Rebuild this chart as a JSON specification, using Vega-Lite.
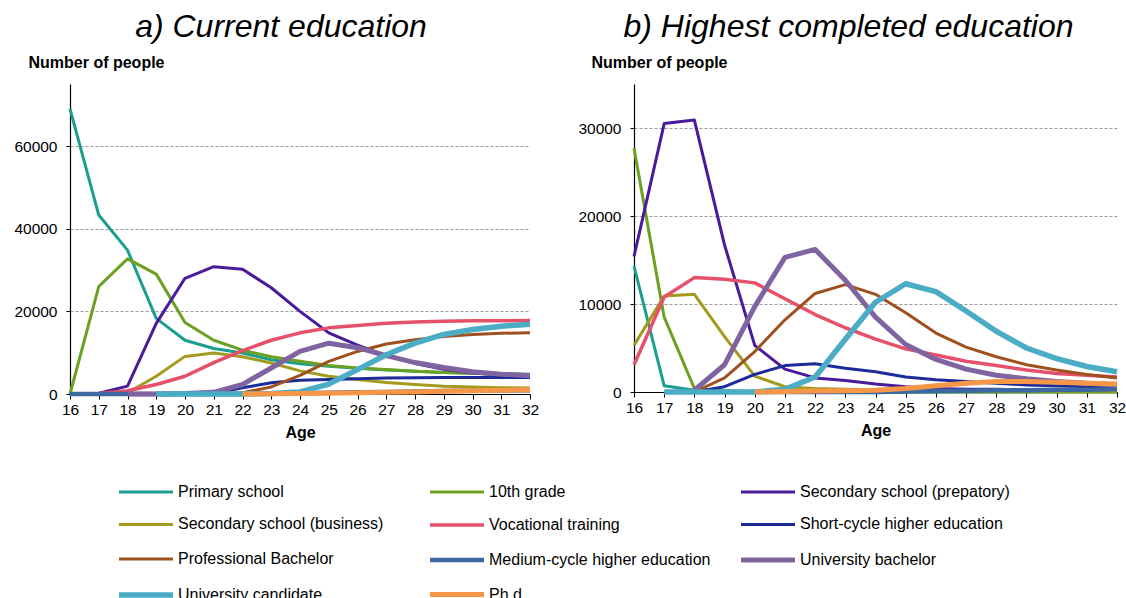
{
  "$schema": "https://vega.github.io/schema/vega-lite/v6.json",
  "background": "white",
  "padding": {"left": 13, "top": 11, "right": 0, "bottom": 0},
  "spacing": 38,
  "datasets": {
    "current": [
      {"age":16,"series":"Primary school","value":69000},{"age":17,"series":"Primary school","value":43300},{"age":18,"series":"Primary school","value":34800},{"age":19,"series":"Primary school","value":18300},{"age":20,"series":"Primary school","value":13000},{"age":21,"series":"Primary school","value":11000},{"age":22,"series":"Primary school","value":9900},{"age":23,"series":"Primary school","value":8300},{"age":24,"series":"Primary school","value":7300},{"age":25,"series":"Primary school","value":6700},{"age":26,"series":"Primary school","value":6200},{"age":27,"series":"Primary school","value":5800},{"age":28,"series":"Primary school","value":5500},{"age":29,"series":"Primary school","value":5200},{"age":30,"series":"Primary school","value":5000},{"age":31,"series":"Primary school","value":4900},{"age":32,"series":"Primary school","value":4800},
      {"age":16,"series":"10th grade","value":0},{"age":17,"series":"10th grade","value":26000},{"age":18,"series":"10th grade","value":32700},{"age":19,"series":"10th grade","value":29000},{"age":20,"series":"10th grade","value":17300},{"age":21,"series":"10th grade","value":13000},{"age":22,"series":"10th grade","value":10600},{"age":23,"series":"10th grade","value":9000},{"age":24,"series":"10th grade","value":7900},{"age":25,"series":"10th grade","value":6900},{"age":26,"series":"10th grade","value":6300},{"age":27,"series":"10th grade","value":5900},{"age":28,"series":"10th grade","value":5500},{"age":29,"series":"10th grade","value":5200},{"age":30,"series":"10th grade","value":5000},{"age":31,"series":"10th grade","value":4800},{"age":32,"series":"10th grade","value":4700},
      {"age":16,"series":"Secondary school (prepatory)","value":0},{"age":17,"series":"Secondary school (prepatory)","value":200},{"age":18,"series":"Secondary school (prepatory)","value":1900},{"age":19,"series":"Secondary school (prepatory)","value":17100},{"age":20,"series":"Secondary school (prepatory)","value":28000},{"age":21,"series":"Secondary school (prepatory)","value":30800},{"age":22,"series":"Secondary school (prepatory)","value":30200},{"age":23,"series":"Secondary school (prepatory)","value":25700},{"age":24,"series":"Secondary school (prepatory)","value":20000},{"age":25,"series":"Secondary school (prepatory)","value":14800},{"age":26,"series":"Secondary school (prepatory)","value":11800},{"age":27,"series":"Secondary school (prepatory)","value":9300},{"age":28,"series":"Secondary school (prepatory)","value":7400},{"age":29,"series":"Secondary school (prepatory)","value":6000},{"age":30,"series":"Secondary school (prepatory)","value":5100},{"age":31,"series":"Secondary school (prepatory)","value":4600},{"age":32,"series":"Secondary school (prepatory)","value":4300},
      {"age":16,"series":"Secondary school (business)","value":0},{"age":17,"series":"Secondary school (business)","value":0},{"age":18,"series":"Secondary school (business)","value":300},{"age":19,"series":"Secondary school (business)","value":4300},{"age":20,"series":"Secondary school (business)","value":9100},{"age":21,"series":"Secondary school (business)","value":9900},{"age":22,"series":"Secondary school (business)","value":9000},{"age":23,"series":"Secondary school (business)","value":7500},{"age":24,"series":"Secondary school (business)","value":5600},{"age":25,"series":"Secondary school (business)","value":4300},{"age":26,"series":"Secondary school (business)","value":3500},{"age":27,"series":"Secondary school (business)","value":2800},{"age":28,"series":"Secondary school (business)","value":2300},{"age":29,"series":"Secondary school (business)","value":1900},{"age":30,"series":"Secondary school (business)","value":1700},{"age":31,"series":"Secondary school (business)","value":1500},{"age":32,"series":"Secondary school (business)","value":1450},
      {"age":16,"series":"Vocational training","value":0},{"age":17,"series":"Vocational training","value":100},{"age":18,"series":"Vocational training","value":800},{"age":19,"series":"Vocational training","value":2300},{"age":20,"series":"Vocational training","value":4300},{"age":21,"series":"Vocational training","value":7600},{"age":22,"series":"Vocational training","value":10500},{"age":23,"series":"Vocational training","value":13000},{"age":24,"series":"Vocational training","value":14800},{"age":25,"series":"Vocational training","value":16000},{"age":26,"series":"Vocational training","value":16600},{"age":27,"series":"Vocational training","value":17100},{"age":28,"series":"Vocational training","value":17400},{"age":29,"series":"Vocational training","value":17600},{"age":30,"series":"Vocational training","value":17700},{"age":31,"series":"Vocational training","value":17700},{"age":32,"series":"Vocational training","value":17800},
      {"age":16,"series":"Short-cycle higher education","value":0},{"age":17,"series":"Short-cycle higher education","value":0},{"age":18,"series":"Short-cycle higher education","value":0},{"age":19,"series":"Short-cycle higher education","value":0},{"age":20,"series":"Short-cycle higher education","value":0},{"age":21,"series":"Short-cycle higher education","value":100},{"age":22,"series":"Short-cycle higher education","value":1500},{"age":23,"series":"Short-cycle higher education","value":2700},{"age":24,"series":"Short-cycle higher education","value":3300},{"age":25,"series":"Short-cycle higher education","value":3500},{"age":26,"series":"Short-cycle higher education","value":3700},{"age":27,"series":"Short-cycle higher education","value":3900},{"age":28,"series":"Short-cycle higher education","value":3950},{"age":29,"series":"Short-cycle higher education","value":4000},{"age":30,"series":"Short-cycle higher education","value":4000},{"age":31,"series":"Short-cycle higher education","value":4000},{"age":32,"series":"Short-cycle higher education","value":4000},
      {"age":16,"series":"Professional Bachelor","value":0},{"age":17,"series":"Professional Bachelor","value":0},{"age":18,"series":"Professional Bachelor","value":0},{"age":19,"series":"Professional Bachelor","value":0},{"age":20,"series":"Professional Bachelor","value":0},{"age":21,"series":"Professional Bachelor","value":0},{"age":22,"series":"Professional Bachelor","value":300},{"age":23,"series":"Professional Bachelor","value":1700},{"age":24,"series":"Professional Bachelor","value":4500},{"age":25,"series":"Professional Bachelor","value":7900},{"age":26,"series":"Professional Bachelor","value":10300},{"age":27,"series":"Professional Bachelor","value":12100},{"age":28,"series":"Professional Bachelor","value":13100},{"age":29,"series":"Professional Bachelor","value":13900},{"age":30,"series":"Professional Bachelor","value":14400},{"age":31,"series":"Professional Bachelor","value":14700},{"age":32,"series":"Professional Bachelor","value":14800},
      {"age":16,"series":"Medium-cycle higher education","value":0},{"age":17,"series":"Medium-cycle higher education","value":0},{"age":18,"series":"Medium-cycle higher education","value":0},{"age":19,"series":"Medium-cycle higher education","value":0},{"age":20,"series":"Medium-cycle higher education","value":0},{"age":21,"series":"Medium-cycle higher education","value":0},{"age":22,"series":"Medium-cycle higher education","value":0},{"age":23,"series":"Medium-cycle higher education","value":100},{"age":24,"series":"Medium-cycle higher education","value":200},{"age":25,"series":"Medium-cycle higher education","value":300},{"age":26,"series":"Medium-cycle higher education","value":400},{"age":27,"series":"Medium-cycle higher education","value":500},{"age":28,"series":"Medium-cycle higher education","value":600},{"age":29,"series":"Medium-cycle higher education","value":700},{"age":30,"series":"Medium-cycle higher education","value":800},{"age":31,"series":"Medium-cycle higher education","value":850},{"age":32,"series":"Medium-cycle higher education","value":900},
      {"age":18,"series":"University bachelor","value":0},{"age":19,"series":"University bachelor","value":0},{"age":20,"series":"University bachelor","value":100},{"age":21,"series":"University bachelor","value":400},{"age":22,"series":"University bachelor","value":2300},{"age":23,"series":"University bachelor","value":6300},{"age":24,"series":"University bachelor","value":10300},{"age":25,"series":"University bachelor","value":12300},{"age":26,"series":"University bachelor","value":11200},{"age":27,"series":"University bachelor","value":9300},{"age":28,"series":"University bachelor","value":7600},{"age":29,"series":"University bachelor","value":6400},{"age":30,"series":"University bachelor","value":5400},{"age":31,"series":"University bachelor","value":4800},{"age":32,"series":"University bachelor","value":4400},
      {"age":19,"series":"University candidate","value":0},{"age":20,"series":"University candidate","value":0},{"age":21,"series":"University candidate","value":0},{"age":22,"series":"University candidate","value":0},{"age":23,"series":"University candidate","value":100},{"age":24,"series":"University candidate","value":500},{"age":25,"series":"University candidate","value":2400},{"age":26,"series":"University candidate","value":5900},{"age":27,"series":"University candidate","value":9500},{"age":28,"series":"University candidate","value":12300},{"age":29,"series":"University candidate","value":14400},{"age":30,"series":"University candidate","value":15600},{"age":31,"series":"University candidate","value":16400},{"age":32,"series":"University candidate","value":16900},
      {"age":22,"series":"Ph.d.","value":0},{"age":23,"series":"Ph.d.","value":50},{"age":24,"series":"Ph.d.","value":100},{"age":25,"series":"Ph.d.","value":200},{"age":26,"series":"Ph.d.","value":300},{"age":27,"series":"Ph.d.","value":400},{"age":28,"series":"Ph.d.","value":500},{"age":29,"series":"Ph.d.","value":650},{"age":30,"series":"Ph.d.","value":800},{"age":31,"series":"Ph.d.","value":900},{"age":32,"series":"Ph.d.","value":1000}
    ],
    "highest": [
      {"age":16,"series":"Primary school","value":14300},{"age":17,"series":"Primary school","value":700},{"age":18,"series":"Primary school","value":200},{"age":19,"series":"Primary school","value":100},{"age":20,"series":"Primary school","value":50},{"age":21,"series":"Primary school","value":0},{"age":22,"series":"Primary school","value":0},{"age":23,"series":"Primary school","value":0},{"age":24,"series":"Primary school","value":0},{"age":25,"series":"Primary school","value":0},{"age":26,"series":"Primary school","value":0},{"age":27,"series":"Primary school","value":0},{"age":28,"series":"Primary school","value":0},{"age":29,"series":"Primary school","value":0},{"age":30,"series":"Primary school","value":0},{"age":31,"series":"Primary school","value":0},{"age":32,"series":"Primary school","value":0},
      {"age":16,"series":"10th grade","value":27700},{"age":17,"series":"10th grade","value":8500},{"age":18,"series":"10th grade","value":400},{"age":19,"series":"10th grade","value":100},{"age":20,"series":"10th grade","value":0},{"age":21,"series":"10th grade","value":0},{"age":22,"series":"10th grade","value":0},{"age":23,"series":"10th grade","value":0},{"age":24,"series":"10th grade","value":0},{"age":25,"series":"10th grade","value":0},{"age":26,"series":"10th grade","value":0},{"age":27,"series":"10th grade","value":0},{"age":28,"series":"10th grade","value":0},{"age":29,"series":"10th grade","value":0},{"age":30,"series":"10th grade","value":0},{"age":31,"series":"10th grade","value":0},{"age":32,"series":"10th grade","value":0},
      {"age":16,"series":"Secondary school (prepatory)","value":15400},{"age":17,"series":"Secondary school (prepatory)","value":30500},{"age":18,"series":"Secondary school (prepatory)","value":30900},{"age":19,"series":"Secondary school (prepatory)","value":16700},{"age":20,"series":"Secondary school (prepatory)","value":5300},{"age":21,"series":"Secondary school (prepatory)","value":2600},{"age":22,"series":"Secondary school (prepatory)","value":1600},{"age":23,"series":"Secondary school (prepatory)","value":1300},{"age":24,"series":"Secondary school (prepatory)","value":900},{"age":25,"series":"Secondary school (prepatory)","value":600},{"age":26,"series":"Secondary school (prepatory)","value":400},{"age":27,"series":"Secondary school (prepatory)","value":300},{"age":28,"series":"Secondary school (prepatory)","value":300},{"age":29,"series":"Secondary school (prepatory)","value":250},{"age":30,"series":"Secondary school (prepatory)","value":200},{"age":31,"series":"Secondary school (prepatory)","value":200},{"age":32,"series":"Secondary school (prepatory)","value":200},
      {"age":16,"series":"Secondary school (business)","value":5300},{"age":17,"series":"Secondary school (business)","value":10900},{"age":18,"series":"Secondary school (business)","value":11100},{"age":19,"series":"Secondary school (business)","value":6300},{"age":20,"series":"Secondary school (business)","value":1800},{"age":21,"series":"Secondary school (business)","value":600},{"age":22,"series":"Secondary school (business)","value":400},{"age":23,"series":"Secondary school (business)","value":300},{"age":24,"series":"Secondary school (business)","value":250},{"age":25,"series":"Secondary school (business)","value":200},{"age":26,"series":"Secondary school (business)","value":200},{"age":27,"series":"Secondary school (business)","value":150},{"age":28,"series":"Secondary school (business)","value":150},{"age":29,"series":"Secondary school (business)","value":100},{"age":30,"series":"Secondary school (business)","value":100},{"age":31,"series":"Secondary school (business)","value":100},{"age":32,"series":"Secondary school (business)","value":100},
      {"age":16,"series":"Vocational training","value":3100},{"age":17,"series":"Vocational training","value":10800},{"age":18,"series":"Vocational training","value":13000},{"age":19,"series":"Vocational training","value":12800},{"age":20,"series":"Vocational training","value":12400},{"age":21,"series":"Vocational training","value":10600},{"age":22,"series":"Vocational training","value":8800},{"age":23,"series":"Vocational training","value":7300},{"age":24,"series":"Vocational training","value":6000},{"age":25,"series":"Vocational training","value":4900},{"age":26,"series":"Vocational training","value":4200},{"age":27,"series":"Vocational training","value":3500},{"age":28,"series":"Vocational training","value":3000},{"age":29,"series":"Vocational training","value":2500},{"age":30,"series":"Vocational training","value":2100},{"age":31,"series":"Vocational training","value":1900},{"age":32,"series":"Vocational training","value":1700},
      {"age":18,"series":"Short-cycle higher education","value":0},{"age":19,"series":"Short-cycle higher education","value":600},{"age":20,"series":"Short-cycle higher education","value":2000},{"age":21,"series":"Short-cycle higher education","value":3000},{"age":22,"series":"Short-cycle higher education","value":3200},{"age":23,"series":"Short-cycle higher education","value":2700},{"age":24,"series":"Short-cycle higher education","value":2300},{"age":25,"series":"Short-cycle higher education","value":1700},{"age":26,"series":"Short-cycle higher education","value":1400},{"age":27,"series":"Short-cycle higher education","value":1200},{"age":28,"series":"Short-cycle higher education","value":1000},{"age":29,"series":"Short-cycle higher education","value":800},{"age":30,"series":"Short-cycle higher education","value":700},{"age":31,"series":"Short-cycle higher education","value":600},{"age":32,"series":"Short-cycle higher education","value":500},
      {"age":18,"series":"Professional Bachelor","value":0},{"age":19,"series":"Professional Bachelor","value":1600},{"age":20,"series":"Professional Bachelor","value":4600},{"age":21,"series":"Professional Bachelor","value":8200},{"age":22,"series":"Professional Bachelor","value":11200},{"age":23,"series":"Professional Bachelor","value":12200},{"age":24,"series":"Professional Bachelor","value":11100},{"age":25,"series":"Professional Bachelor","value":9000},{"age":26,"series":"Professional Bachelor","value":6700},{"age":27,"series":"Professional Bachelor","value":5100},{"age":28,"series":"Professional Bachelor","value":4000},{"age":29,"series":"Professional Bachelor","value":3100},{"age":30,"series":"Professional Bachelor","value":2500},{"age":31,"series":"Professional Bachelor","value":2000},{"age":32,"series":"Professional Bachelor","value":1600},
      {"age":20,"series":"Medium-cycle higher education","value":0},{"age":21,"series":"Medium-cycle higher education","value":0},{"age":22,"series":"Medium-cycle higher education","value":0},{"age":23,"series":"Medium-cycle higher education","value":0},{"age":24,"series":"Medium-cycle higher education","value":0},{"age":25,"series":"Medium-cycle higher education","value":50},{"age":26,"series":"Medium-cycle higher education","value":100},{"age":27,"series":"Medium-cycle higher education","value":150},{"age":28,"series":"Medium-cycle higher education","value":200},{"age":29,"series":"Medium-cycle higher education","value":200},{"age":30,"series":"Medium-cycle higher education","value":250},{"age":31,"series":"Medium-cycle higher education","value":250},{"age":32,"series":"Medium-cycle higher education","value":300},
      {"age":18,"series":"University bachelor","value":200},{"age":19,"series":"University bachelor","value":3100},{"age":20,"series":"University bachelor","value":9700},{"age":21,"series":"University bachelor","value":15300},{"age":22,"series":"University bachelor","value":16200},{"age":23,"series":"University bachelor","value":12700},{"age":24,"series":"University bachelor","value":8500},{"age":25,"series":"University bachelor","value":5400},{"age":26,"series":"University bachelor","value":3700},{"age":27,"series":"University bachelor","value":2600},{"age":28,"series":"University bachelor","value":1900},{"age":29,"series":"University bachelor","value":1500},{"age":30,"series":"University bachelor","value":1200},{"age":31,"series":"University bachelor","value":1000},{"age":32,"series":"University bachelor","value":800},
      {"age":17,"series":"University candidate","value":0},{"age":18,"series":"University candidate","value":0},{"age":19,"series":"University candidate","value":0},{"age":20,"series":"University candidate","value":0},{"age":21,"series":"University candidate","value":300},{"age":22,"series":"University candidate","value":1700},{"age":23,"series":"University candidate","value":6000},{"age":24,"series":"University candidate","value":10200},{"age":25,"series":"University candidate","value":12300},{"age":26,"series":"University candidate","value":11400},{"age":27,"series":"University candidate","value":9200},{"age":28,"series":"University candidate","value":6900},{"age":29,"series":"University candidate","value":5000},{"age":30,"series":"University candidate","value":3800},{"age":31,"series":"University candidate","value":2900},{"age":32,"series":"University candidate","value":2300},
      {"age":20,"series":"Ph.d.","value":0},{"age":21,"series":"Ph.d.","value":50},{"age":22,"series":"Ph.d.","value":100},{"age":23,"series":"Ph.d.","value":150},{"age":24,"series":"Ph.d.","value":200},{"age":25,"series":"Ph.d.","value":400},{"age":26,"series":"Ph.d.","value":700},{"age":27,"series":"Ph.d.","value":1000},{"age":28,"series":"Ph.d.","value":1200},{"age":29,"series":"Ph.d.","value":1200},{"age":30,"series":"Ph.d.","value":1100},{"age":31,"series":"Ph.d.","value":1000},{"age":32,"series":"Ph.d.","value":900}
    ]
  },
  "hconcat": [
    {
      "title": {"text": "a) Current education", "fontSize": 32, "fontStyle": "italic", "fontWeight": "normal", "font": "Liberation Sans", "color": "#000", "anchor": "middle", "offset": 10, "dx": -19},
      "width": 460,
      "height": 310,
      "data": {"name": "current"},
      "mark": {"type": "line", "strokeCap": "butt", "strokeJoin": "round"},
      "encoding": {
        "x": {"field": "age", "type": "quantitative", "scale": {"domain": [16, 32], "nice": false, "zero": false},
              "axis": {"values": [16,17,18,19,20,21,22,23,24,25,26,27,28,29,30,31,32], "format": "d", "title": "Age", "grid": false, "tickSize": 5, "labelPadding": 3, "titlePadding": 7, "labelFlush": false}},
        "y": {"field": "value", "type": "quantitative", "scale": {"domain": [0, 75000], "nice": false},
              "axis": {"values": [0, 20000, 40000, 60000], "format": "d", "title": "Number of people", "titleAngle": 0, "titleAlign": "left", "titleBaseline": "alphabetic", "titleX": -42, "titleY": -17, "tickSize": 4, "labelPadding": 9, "grid": true}},
        "color": {"field": "series", "type": "nominal",
                  "scale": {"domain": ["Primary school","10th grade","Secondary school (prepatory)","Secondary school (business)","Vocational training","Short-cycle higher education","Professional Bachelor","Medium-cycle higher education","University bachelor","University candidate","Ph.d."],
                            "range": ["#1B9E8F","#6AA121","#4A1A9C","#A39A1E","#E6506A","#1C2A9A","#A0501E","#3B68A0","#8064A2","#4BACC6","#F79646"]},
                  "legend": {"orient": "none", "legendX": 46, "legendY": 394.3, "columns": 3, "direction": "horizontal", "title": null}},
        "strokeWidth": {"field": "series", "type": "nominal",
                  "scale": {"type": "ordinal", "domain": ["Primary school","10th grade","Secondary school (prepatory)","Secondary school (business)","Vocational training","Short-cycle higher education","Professional Bachelor","Medium-cycle higher education","University bachelor","University candidate","Ph.d."],
                            "range": [3, 3, 3, 3, 3.5, 3, 3, 4.5, 5, 5.5, 5]},
                  "legend": null}
      }
    },
    {
      "title": {"text": "b) Highest completed education", "fontSize": 32, "fontStyle": "italic", "fontWeight": "normal", "font": "Liberation Sans", "color": "#000", "anchor": "middle", "offset": 10, "dx": -27},
      "width": 483,
      "height": 308,
      "data": {"name": "highest"},
      "mark": {"type": "line", "strokeCap": "butt", "strokeJoin": "round"},
      "encoding": {
        "x": {"field": "age", "type": "quantitative", "scale": {"domain": [16, 32], "nice": false, "zero": false},
              "axis": {"values": [16,17,18,19,20,21,22,23,24,25,26,27,28,29,30,31,32], "format": "d", "title": "Age", "grid": false, "tickSize": 5, "labelPadding": 3, "titlePadding": 7, "labelFlush": false}},
        "y": {"field": "value", "type": "quantitative", "scale": {"domain": [0, 35000], "nice": false},
              "axis": {"values": [0, 10000, 20000, 30000], "format": "d", "title": "Number of people", "titleAngle": 0, "titleAlign": "left", "titleBaseline": "alphabetic", "titleX": -43, "titleY": -17, "tickSize": 4, "labelPadding": 9, "grid": true}},
        "color": {"field": "series", "type": "nominal",
                  "scale": {"domain": ["Primary school","10th grade","Secondary school (prepatory)","Secondary school (business)","Vocational training","Short-cycle higher education","Professional Bachelor","Medium-cycle higher education","University bachelor","University candidate","Ph.d."],
                            "range": ["#1B9E8F","#6AA121","#4A1A9C","#A39A1E","#E6506A","#1C2A9A","#A0501E","#3B68A0","#8064A2","#4BACC6","#F79646"]},
                  "legend": {"orient": "none", "legendX": 46, "legendY": 394.3, "columns": 3, "direction": "horizontal", "title": null}},
        "strokeWidth": {"field": "series", "type": "nominal",
                  "scale": {"type": "ordinal", "domain": ["Primary school","10th grade","Secondary school (prepatory)","Secondary school (business)","Vocational training","Short-cycle higher education","Professional Bachelor","Medium-cycle higher education","University bachelor","University candidate","Ph.d."],
                            "range": [3, 3, 3, 3, 3.5, 3, 3, 4.5, 5, 5.5, 5]},
                  "legend": null}
      }
    }
  ],
  "config": {
    "font": "Liberation Sans",
    "view": {"stroke": null},
    "axis": {"labelFont": "Liberation Sans", "labelFontSize": 15.5, "labelColor": "#000", "titleFont": "Liberation Sans", "titleFontSize": 16, "titleFontWeight": "bold", "titleColor": "#000", "domainColor": "#000", "domainWidth": 1.2, "tickColor": "#000", "gridColor": "#9a9a9a", "gridDash": [3, 2], "gridWidth": 1},
    "legend": {"symbolType": "M-1,0H4.4", "symbolSize": 400, "symbolStrokeWidth": 3.5, "symbolFillColor": "transparent", "labelFont": "Liberation Sans", "labelFontSize": 16, "labelColor": "#000", "labelOffset": 36, "rowPadding": 10.6, "columnPadding": 20, "gridAlign": "all", "labelLimit": 400, "padding": 0}
  }
}
